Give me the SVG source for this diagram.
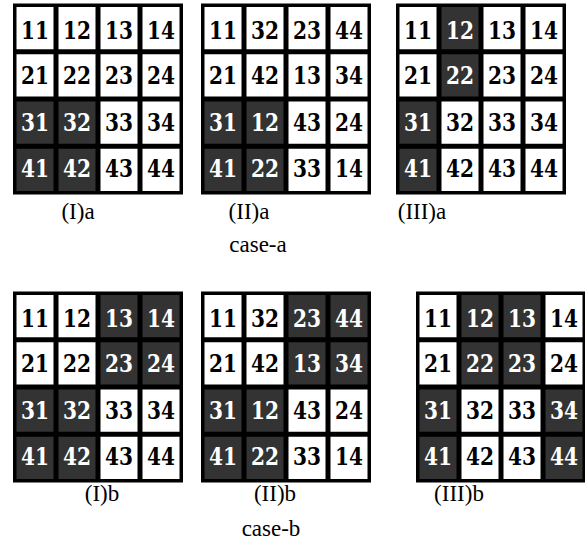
<svg xmlns="http://www.w3.org/2000/svg" width="585" height="545" viewBox="0 0 585 545">
<style>
.bg{fill:#000}
.c{fill:#fff}
.d{fill:#333}
.t{font-family:"DejaVu Serif","Liberation Serif",serif;font-weight:bold;font-size:25px;text-anchor:middle;fill:#000}
.tw{fill:#fff}
.lb{font-family:"Liberation Serif","Times New Roman",serif;font-size:23px;text-anchor:middle;fill:#000}
</style>
<defs>
<rect id="bgr" class="bg" x="-1" y="-1" width="170" height="191"/>
</defs>
<g id="grid-Ia" transform="translate(14,4.5)">
<use href="#bgr"/>
<rect class="c" x="2.5" y="2.5" width="37" height="42.25"/><rect class="c" x="44.5" y="2.5" width="37" height="42.25"/><rect class="c" x="86.5" y="2.5" width="37" height="42.25"/><rect class="c" x="128.5" y="2.5" width="37" height="42.25"/>
<rect class="c" x="2.5" y="49.75" width="37" height="42.25"/><rect class="c" x="44.5" y="49.75" width="37" height="42.25"/><rect class="c" x="86.5" y="49.75" width="37" height="42.25"/><rect class="c" x="128.5" y="49.75" width="37" height="42.25"/>
<rect class="d" x="2.5" y="97" width="37" height="42.25"/><rect class="d" x="44.5" y="97" width="37" height="42.25"/><rect class="c" x="86.5" y="97" width="37" height="42.25"/><rect class="c" x="128.5" y="97" width="37" height="42.25"/>
<rect class="d" x="2.5" y="144.25" width="37" height="42.25"/><rect class="d" x="44.5" y="144.25" width="37" height="42.25"/><rect class="c" x="86.5" y="144.25" width="37" height="42.25"/><rect class="c" x="128.5" y="144.25" width="37" height="42.25"/>
<text class="t" x="21" y="34" textLength="28" lengthAdjust="spacingAndGlyphs">11</text><text class="t" x="63" y="34" textLength="28" lengthAdjust="spacingAndGlyphs">12</text><text class="t" x="105" y="34" textLength="28" lengthAdjust="spacingAndGlyphs">13</text><text class="t" x="147" y="34" textLength="28" lengthAdjust="spacingAndGlyphs">14</text>
<text class="t" x="21" y="79" textLength="28" lengthAdjust="spacingAndGlyphs">21</text><text class="t" x="63" y="79" textLength="28" lengthAdjust="spacingAndGlyphs">22</text><text class="t" x="105" y="79" textLength="28" lengthAdjust="spacingAndGlyphs">23</text><text class="t" x="147" y="79" textLength="28" lengthAdjust="spacingAndGlyphs">24</text>
<text class="t tw" x="21" y="126" textLength="28" lengthAdjust="spacingAndGlyphs">31</text><text class="t tw" x="63" y="126" textLength="28" lengthAdjust="spacingAndGlyphs">32</text><text class="t" x="105" y="126" textLength="28" lengthAdjust="spacingAndGlyphs">33</text><text class="t" x="147" y="126" textLength="28" lengthAdjust="spacingAndGlyphs">34</text>
<text class="t tw" x="21" y="172" textLength="28" lengthAdjust="spacingAndGlyphs">41</text><text class="t tw" x="63" y="172" textLength="28" lengthAdjust="spacingAndGlyphs">42</text><text class="t" x="105" y="172" textLength="28" lengthAdjust="spacingAndGlyphs">43</text><text class="t" x="147" y="172" textLength="28" lengthAdjust="spacingAndGlyphs">44</text>
</g>
<g id="grid-IIa" transform="translate(202,4.5)">
<use href="#bgr"/>
<rect class="c" x="2.5" y="2.5" width="37" height="42.25"/><rect class="c" x="44.5" y="2.5" width="37" height="42.25"/><rect class="c" x="86.5" y="2.5" width="37" height="42.25"/><rect class="c" x="128.5" y="2.5" width="37" height="42.25"/>
<rect class="c" x="2.5" y="49.75" width="37" height="42.25"/><rect class="c" x="44.5" y="49.75" width="37" height="42.25"/><rect class="c" x="86.5" y="49.75" width="37" height="42.25"/><rect class="c" x="128.5" y="49.75" width="37" height="42.25"/>
<rect class="d" x="2.5" y="97" width="37" height="42.25"/><rect class="d" x="44.5" y="97" width="37" height="42.25"/><rect class="c" x="86.5" y="97" width="37" height="42.25"/><rect class="c" x="128.5" y="97" width="37" height="42.25"/>
<rect class="d" x="2.5" y="144.25" width="37" height="42.25"/><rect class="d" x="44.5" y="144.25" width="37" height="42.25"/><rect class="c" x="86.5" y="144.25" width="37" height="42.25"/><rect class="c" x="128.5" y="144.25" width="37" height="42.25"/>
<text class="t" x="21" y="34" textLength="28" lengthAdjust="spacingAndGlyphs">11</text><text class="t" x="63" y="34" textLength="28" lengthAdjust="spacingAndGlyphs">32</text><text class="t" x="105" y="34" textLength="28" lengthAdjust="spacingAndGlyphs">23</text><text class="t" x="147" y="34" textLength="28" lengthAdjust="spacingAndGlyphs">44</text>
<text class="t" x="21" y="79" textLength="28" lengthAdjust="spacingAndGlyphs">21</text><text class="t" x="63" y="79" textLength="28" lengthAdjust="spacingAndGlyphs">42</text><text class="t" x="105" y="79" textLength="28" lengthAdjust="spacingAndGlyphs">13</text><text class="t" x="147" y="79" textLength="28" lengthAdjust="spacingAndGlyphs">34</text>
<text class="t tw" x="21" y="126" textLength="28" lengthAdjust="spacingAndGlyphs">31</text><text class="t tw" x="63" y="126" textLength="28" lengthAdjust="spacingAndGlyphs">12</text><text class="t" x="105" y="126" textLength="28" lengthAdjust="spacingAndGlyphs">43</text><text class="t" x="147" y="126" textLength="28" lengthAdjust="spacingAndGlyphs">24</text>
<text class="t tw" x="21" y="172" textLength="28" lengthAdjust="spacingAndGlyphs">41</text><text class="t tw" x="63" y="172" textLength="28" lengthAdjust="spacingAndGlyphs">22</text><text class="t" x="105" y="172" textLength="28" lengthAdjust="spacingAndGlyphs">33</text><text class="t" x="147" y="172" textLength="28" lengthAdjust="spacingAndGlyphs">14</text>
</g>
<g id="grid-IIIa" transform="translate(397,4.5)">
<use href="#bgr"/>
<rect class="c" x="2.5" y="2.5" width="37" height="42.25"/><rect class="d" x="44.5" y="2.5" width="37" height="42.25"/><rect class="c" x="86.5" y="2.5" width="37" height="42.25"/><rect class="c" x="128.5" y="2.5" width="37" height="42.25"/>
<rect class="c" x="2.5" y="49.75" width="37" height="42.25"/><rect class="d" x="44.5" y="49.75" width="37" height="42.25"/><rect class="c" x="86.5" y="49.75" width="37" height="42.25"/><rect class="c" x="128.5" y="49.75" width="37" height="42.25"/>
<rect class="d" x="2.5" y="97" width="37" height="42.25"/><rect class="c" x="44.5" y="97" width="37" height="42.25"/><rect class="c" x="86.5" y="97" width="37" height="42.25"/><rect class="c" x="128.5" y="97" width="37" height="42.25"/>
<rect class="d" x="2.5" y="144.25" width="37" height="42.25"/><rect class="c" x="44.5" y="144.25" width="37" height="42.25"/><rect class="c" x="86.5" y="144.25" width="37" height="42.25"/><rect class="c" x="128.5" y="144.25" width="37" height="42.25"/>
<text class="t" x="21" y="34" textLength="28" lengthAdjust="spacingAndGlyphs">11</text><text class="t tw" x="63" y="34" textLength="28" lengthAdjust="spacingAndGlyphs">12</text><text class="t" x="105" y="34" textLength="28" lengthAdjust="spacingAndGlyphs">13</text><text class="t" x="147" y="34" textLength="28" lengthAdjust="spacingAndGlyphs">14</text>
<text class="t" x="21" y="79" textLength="28" lengthAdjust="spacingAndGlyphs">21</text><text class="t tw" x="63" y="79" textLength="28" lengthAdjust="spacingAndGlyphs">22</text><text class="t" x="105" y="79" textLength="28" lengthAdjust="spacingAndGlyphs">23</text><text class="t" x="147" y="79" textLength="28" lengthAdjust="spacingAndGlyphs">24</text>
<text class="t tw" x="21" y="126" textLength="28" lengthAdjust="spacingAndGlyphs">31</text><text class="t" x="63" y="126" textLength="28" lengthAdjust="spacingAndGlyphs">32</text><text class="t" x="105" y="126" textLength="28" lengthAdjust="spacingAndGlyphs">33</text><text class="t" x="147" y="126" textLength="28" lengthAdjust="spacingAndGlyphs">34</text>
<text class="t tw" x="21" y="172" textLength="28" lengthAdjust="spacingAndGlyphs">41</text><text class="t" x="63" y="172" textLength="28" lengthAdjust="spacingAndGlyphs">42</text><text class="t" x="105" y="172" textLength="28" lengthAdjust="spacingAndGlyphs">43</text><text class="t" x="147" y="172" textLength="28" lengthAdjust="spacingAndGlyphs">44</text>
</g>
<g id="grid-Ib" transform="translate(14,292.5)">
<use href="#bgr"/>
<rect class="c" x="2.5" y="2.5" width="37" height="42.25"/><rect class="c" x="44.5" y="2.5" width="37" height="42.25"/><rect class="d" x="86.5" y="2.5" width="37" height="42.25"/><rect class="d" x="128.5" y="2.5" width="37" height="42.25"/>
<rect class="c" x="2.5" y="49.75" width="37" height="42.25"/><rect class="c" x="44.5" y="49.75" width="37" height="42.25"/><rect class="d" x="86.5" y="49.75" width="37" height="42.25"/><rect class="d" x="128.5" y="49.75" width="37" height="42.25"/>
<rect class="d" x="2.5" y="97" width="37" height="42.25"/><rect class="d" x="44.5" y="97" width="37" height="42.25"/><rect class="c" x="86.5" y="97" width="37" height="42.25"/><rect class="c" x="128.5" y="97" width="37" height="42.25"/>
<rect class="d" x="2.5" y="144.25" width="37" height="42.25"/><rect class="d" x="44.5" y="144.25" width="37" height="42.25"/><rect class="c" x="86.5" y="144.25" width="37" height="42.25"/><rect class="c" x="128.5" y="144.25" width="37" height="42.25"/>
<text class="t" x="21" y="34" textLength="28" lengthAdjust="spacingAndGlyphs">11</text><text class="t" x="63" y="34" textLength="28" lengthAdjust="spacingAndGlyphs">12</text><text class="t tw" x="105" y="34" textLength="28" lengthAdjust="spacingAndGlyphs">13</text><text class="t tw" x="147" y="34" textLength="28" lengthAdjust="spacingAndGlyphs">14</text>
<text class="t" x="21" y="79" textLength="28" lengthAdjust="spacingAndGlyphs">21</text><text class="t" x="63" y="79" textLength="28" lengthAdjust="spacingAndGlyphs">22</text><text class="t tw" x="105" y="79" textLength="28" lengthAdjust="spacingAndGlyphs">23</text><text class="t tw" x="147" y="79" textLength="28" lengthAdjust="spacingAndGlyphs">24</text>
<text class="t tw" x="21" y="126" textLength="28" lengthAdjust="spacingAndGlyphs">31</text><text class="t tw" x="63" y="126" textLength="28" lengthAdjust="spacingAndGlyphs">32</text><text class="t" x="105" y="126" textLength="28" lengthAdjust="spacingAndGlyphs">33</text><text class="t" x="147" y="126" textLength="28" lengthAdjust="spacingAndGlyphs">34</text>
<text class="t tw" x="21" y="172" textLength="28" lengthAdjust="spacingAndGlyphs">41</text><text class="t tw" x="63" y="172" textLength="28" lengthAdjust="spacingAndGlyphs">42</text><text class="t" x="105" y="172" textLength="28" lengthAdjust="spacingAndGlyphs">43</text><text class="t" x="147" y="172" textLength="28" lengthAdjust="spacingAndGlyphs">44</text>
</g>
<g id="grid-IIb" transform="translate(202,292.5)">
<use href="#bgr"/>
<rect class="c" x="2.5" y="2.5" width="37" height="42.25"/><rect class="c" x="44.5" y="2.5" width="37" height="42.25"/><rect class="d" x="86.5" y="2.5" width="37" height="42.25"/><rect class="d" x="128.5" y="2.5" width="37" height="42.25"/>
<rect class="c" x="2.5" y="49.75" width="37" height="42.25"/><rect class="c" x="44.5" y="49.75" width="37" height="42.25"/><rect class="d" x="86.5" y="49.75" width="37" height="42.25"/><rect class="d" x="128.5" y="49.75" width="37" height="42.25"/>
<rect class="d" x="2.5" y="97" width="37" height="42.25"/><rect class="d" x="44.5" y="97" width="37" height="42.25"/><rect class="c" x="86.5" y="97" width="37" height="42.25"/><rect class="c" x="128.5" y="97" width="37" height="42.25"/>
<rect class="d" x="2.5" y="144.25" width="37" height="42.25"/><rect class="d" x="44.5" y="144.25" width="37" height="42.25"/><rect class="c" x="86.5" y="144.25" width="37" height="42.25"/><rect class="c" x="128.5" y="144.25" width="37" height="42.25"/>
<text class="t" x="21" y="34" textLength="28" lengthAdjust="spacingAndGlyphs">11</text><text class="t" x="63" y="34" textLength="28" lengthAdjust="spacingAndGlyphs">32</text><text class="t tw" x="105" y="34" textLength="28" lengthAdjust="spacingAndGlyphs">23</text><text class="t tw" x="147" y="34" textLength="28" lengthAdjust="spacingAndGlyphs">44</text>
<text class="t" x="21" y="79" textLength="28" lengthAdjust="spacingAndGlyphs">21</text><text class="t" x="63" y="79" textLength="28" lengthAdjust="spacingAndGlyphs">42</text><text class="t tw" x="105" y="79" textLength="28" lengthAdjust="spacingAndGlyphs">13</text><text class="t tw" x="147" y="79" textLength="28" lengthAdjust="spacingAndGlyphs">34</text>
<text class="t tw" x="21" y="126" textLength="28" lengthAdjust="spacingAndGlyphs">31</text><text class="t tw" x="63" y="126" textLength="28" lengthAdjust="spacingAndGlyphs">12</text><text class="t" x="105" y="126" textLength="28" lengthAdjust="spacingAndGlyphs">43</text><text class="t" x="147" y="126" textLength="28" lengthAdjust="spacingAndGlyphs">24</text>
<text class="t tw" x="21" y="172" textLength="28" lengthAdjust="spacingAndGlyphs">41</text><text class="t tw" x="63" y="172" textLength="28" lengthAdjust="spacingAndGlyphs">22</text><text class="t" x="105" y="172" textLength="28" lengthAdjust="spacingAndGlyphs">33</text><text class="t" x="147" y="172" textLength="28" lengthAdjust="spacingAndGlyphs">14</text>
</g>
<g id="grid-IIIb" transform="translate(417,292.5)">
<use href="#bgr"/>
<rect class="c" x="2.5" y="2.5" width="37" height="42.25"/><rect class="d" x="44.5" y="2.5" width="37" height="42.25"/><rect class="d" x="86.5" y="2.5" width="37" height="42.25"/><rect class="c" x="128.5" y="2.5" width="37" height="42.25"/>
<rect class="c" x="2.5" y="49.75" width="37" height="42.25"/><rect class="d" x="44.5" y="49.75" width="37" height="42.25"/><rect class="d" x="86.5" y="49.75" width="37" height="42.25"/><rect class="c" x="128.5" y="49.75" width="37" height="42.25"/>
<rect class="d" x="2.5" y="97" width="37" height="42.25"/><rect class="c" x="44.5" y="97" width="37" height="42.25"/><rect class="c" x="86.5" y="97" width="37" height="42.25"/><rect class="d" x="128.5" y="97" width="37" height="42.25"/>
<rect class="d" x="2.5" y="144.25" width="37" height="42.25"/><rect class="c" x="44.5" y="144.25" width="37" height="42.25"/><rect class="c" x="86.5" y="144.25" width="37" height="42.25"/><rect class="d" x="128.5" y="144.25" width="37" height="42.25"/>
<text class="t" x="21" y="34" textLength="28" lengthAdjust="spacingAndGlyphs">11</text><text class="t tw" x="63" y="34" textLength="28" lengthAdjust="spacingAndGlyphs">12</text><text class="t tw" x="105" y="34" textLength="28" lengthAdjust="spacingAndGlyphs">13</text><text class="t" x="147" y="34" textLength="28" lengthAdjust="spacingAndGlyphs">14</text>
<text class="t" x="21" y="79" textLength="28" lengthAdjust="spacingAndGlyphs">21</text><text class="t tw" x="63" y="79" textLength="28" lengthAdjust="spacingAndGlyphs">22</text><text class="t tw" x="105" y="79" textLength="28" lengthAdjust="spacingAndGlyphs">23</text><text class="t" x="147" y="79" textLength="28" lengthAdjust="spacingAndGlyphs">24</text>
<text class="t tw" x="21" y="126" textLength="28" lengthAdjust="spacingAndGlyphs">31</text><text class="t" x="63" y="126" textLength="28" lengthAdjust="spacingAndGlyphs">32</text><text class="t" x="105" y="126" textLength="28" lengthAdjust="spacingAndGlyphs">33</text><text class="t tw" x="147" y="126" textLength="28" lengthAdjust="spacingAndGlyphs">34</text>
<text class="t tw" x="21" y="172" textLength="28" lengthAdjust="spacingAndGlyphs">41</text><text class="t" x="63" y="172" textLength="28" lengthAdjust="spacingAndGlyphs">42</text><text class="t" x="105" y="172" textLength="28" lengthAdjust="spacingAndGlyphs">43</text><text class="t tw" x="147" y="172" textLength="28" lengthAdjust="spacingAndGlyphs">44</text>
</g>
<g id="connectors"></g>
<g id="labels">
<text class="lb" x="78" y="219">(I)a</text>
<text class="lb" x="249" y="219">(II)a</text>
<text class="lb" x="422" y="219">(III)a</text>
<text class="lb" x="258" y="252">case-a</text>
<text class="lb" x="102" y="501">(I)b</text>
<text class="lb" x="275" y="501">(II)b</text>
<text class="lb" x="459" y="501">(III)b</text>
<text class="lb" x="271" y="536">case-b</text>
</g>
</svg>
